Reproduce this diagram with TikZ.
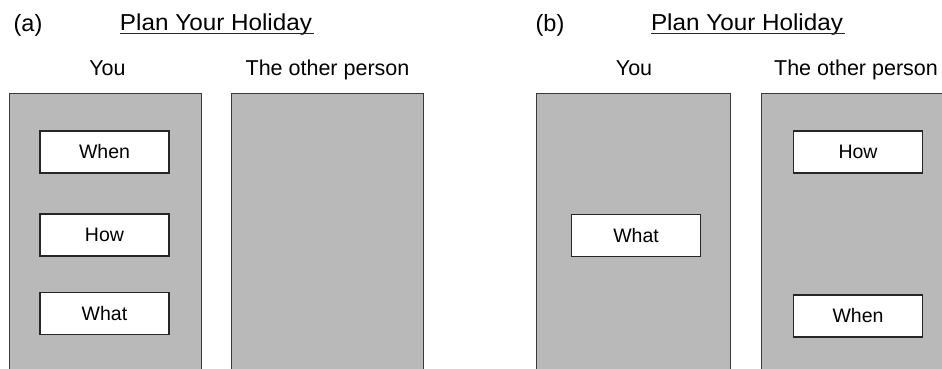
\documentclass[tikz,border=0pt]{standalone}
\usepackage{graphicx}
\usepackage{fontspec}
\setmainfont{Liberation Sans}
\definecolor{panelgray}{HTML}{B9B9B9}
\definecolor{edgegray}{HTML}{3A3A3A}
\tikzset{
  lbl/.style={inner sep=0pt, anchor=base, font=\fontsize{23.5bp}{28bp}\selectfont},
  ttl/.style={inner sep=0pt, anchor=base},
  head/.style={inner sep=0pt, anchor=base, font=\fontsize{21.5bp}{25bp}\selectfont},
  panel/.style={draw=edgegray, line width=1.4bp, fill=panelgray, anchor=north west, inner sep=0pt, minimum height=285bp},
  itembox/.style={draw=black!85, line width=1.4bp, fill=white, inner sep=0pt, minimum width=129bp, minimum height=42bp, font=\fontsize{19.5bp}{23bp}\selectfont},
  uline/.style={line width=1.4bp, black!85}
}
\newcommand{\plantitle}{\resizebox{192bp}{16.7bp}{\fontsize{24bp}{28bp}\selectfont Plan Your Holiday}}
\begin{document}
\begin{tikzpicture}[x=1bp,y=-1bp]
\useasboundingbox (0,0) rectangle (942,368);
\clip (0,0) rectangle (942,368);
% panel (a)
\node[lbl] (la) at (28,31.5) {(a)};
\node[ttl] (ta) at (216,30) {\plantitle};
\draw[uline] ([yshift=-3.3bp]ta.base west) -- ([yshift=-3.3bp,xshift=2bp]ta.base east);
\node[head] (ya) at (107.5,75) {You};
\node[head] (oa) at (327.5,75) {The other person};
\node[panel, minimum width=192bp] (pa1) at (9,93) {};
\node[panel, minimum width=192bp] (pa2) at (231,93) {};
\node[itembox] (wa1) at (104.5,152) {When};
\node[itembox] (wa2) at (104.5,235) {How};
\node[itembox] (wa3) at (104.5,313.5) {What};
% panel (b)
\node[lbl] (lb) at (550,31.5) {(b)};
\node[ttl] (tb) at (747,30) {\plantitle};
\draw[uline] ([yshift=-3.3bp]tb.base west) -- ([yshift=-3.3bp,xshift=2bp]tb.base east);
\node[head] (yb) at (634,75) {You};
\node[head] (ob) at (856,75) {The other person};
\node[panel, minimum width=194bp] (pb1) at (536,93) {};
\node[panel, minimum width=200bp] (pb2) at (761,93) {};
\node[itembox] (wb1) at (858,152) {How};
\node[itembox] (wb2) at (636,235.5) {What};
\node[itembox] (wb3) at (858,316) {When};
\end{tikzpicture}
\end{document}
